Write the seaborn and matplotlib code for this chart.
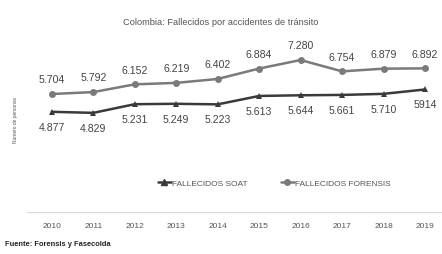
import pandas as pd
import matplotlib.pyplot as plt
import seaborn as sns

# datos
years = ['2010', '2011', '2012', '2013', '2014', '2015', '2016', '2017', '2018', '2019']
soat = [4877, 4829, 5231, 5249, 5223, 5613, 5644, 5661, 5710, 5914]
forensis = [5704, 5792, 6152, 6219, 6402, 6884, 7280, 6754, 6879, 6892]
soat_labels = ['4.877', '4.829', '5.231', '5.249', '5.223', '5.613', '5.644', '5.661', '5.710', '5914']
forensis_labels = ['5.704', '5.792', '6.152', '6.219', '6.402', '6.884', '7.280', '6.754', '6.879', '6.892']

sns.set_style('white')
plt.rcParams['font.family'] = ['Liberation Sans', 'DejaVu Sans']

df = pd.DataFrame({
    'x': list(range(len(years))) * 2,
    'valor': soat + forensis,
    'serie': ['FALLECIDOS SOAT'] * len(years) + ['FALLECIDOS FORENSIS'] * len(years),
})

fig = plt.figure(figsize=(4.42, 2.55), dpi=100)
ax = fig.add_axes([0.061, 0.165, 0.939, 0.678])

sns.lineplot(data=df, x='x', y='valor', hue='serie', style='serie',
             palette={'FALLECIDOS SOAT': '#3a3a3a', 'FALLECIDOS FORENSIS': '#7a7a7a'},
             markers={'FALLECIDOS SOAT': '^', 'FALLECIDOS FORENSIS': 'o'},
             dashes=False, linewidth=1.8, markersize=5, markeredgewidth=0,
             ax=ax, legend=False)

for i in range(len(years)):
    ax.annotate(forensis_labels[i], (i, forensis[i]), xytext=(0, 7), textcoords='offset points',
                ha='center', va='bottom', fontsize=7.6, color='#444444')
    ax.annotate(soat_labels[i], (i, soat[i]), xytext=(0, -7), textcoords='offset points',
                ha='center', va='top', fontsize=7.6, color='#444444')

ax.set_xlim(-0.6, 9.41)
ax.set_ylim(234, 8253)
ax.set_xticks(range(len(years)))
ax.set_xticklabels(years, fontsize=6, color='#555555')
ax.set_yticks([])
ax.tick_params(axis='x', length=0, pad=7.5)
ax.set_xlabel('')
ax.set_ylabel('')
for s in ['top', 'right', 'left']:
    ax.spines[s].set_visible(False)
ax.spines['bottom'].set_color('#d9d9d9')
ax.spines['bottom'].set_linewidth(0.8)

# leyenda
h1, = ax.plot([], [], color='#3a3a3a', marker='^', lw=1.8, ms=4)
h2, = ax.plot([], [], color='#7a7a7a', marker='o', lw=1.8, ms=4)
fig.legend([h1, h2], ['FALLECIDOS SOAT', 'FALLECIDOS FORENSIS'], loc='center',
           bbox_to_anchor=(0.62, 0.278), ncol=2, frameon=False, fontsize=6,
           handlelength=1.6, handletextpad=0.1, columnspacing=4, labelcolor='#555555')

fig.text(0.5, 0.912, 'Colombia: Fallecidos por accidentes de tránsito', ha='center', va='center',
         fontsize=6.7, color='#555555')
fig.text(0.034, 0.53, 'Número de personas', rotation=90, ha='center', va='center',
         fontsize=3.5, color='#555555')
fig.text(0.012, 0.043, 'Fuente: Forensis y Fasecolda', ha='left', va='center',
         fontsize=5.4, fontweight='bold', color='#222222')

fig.savefig('out.png', dpi=100)
